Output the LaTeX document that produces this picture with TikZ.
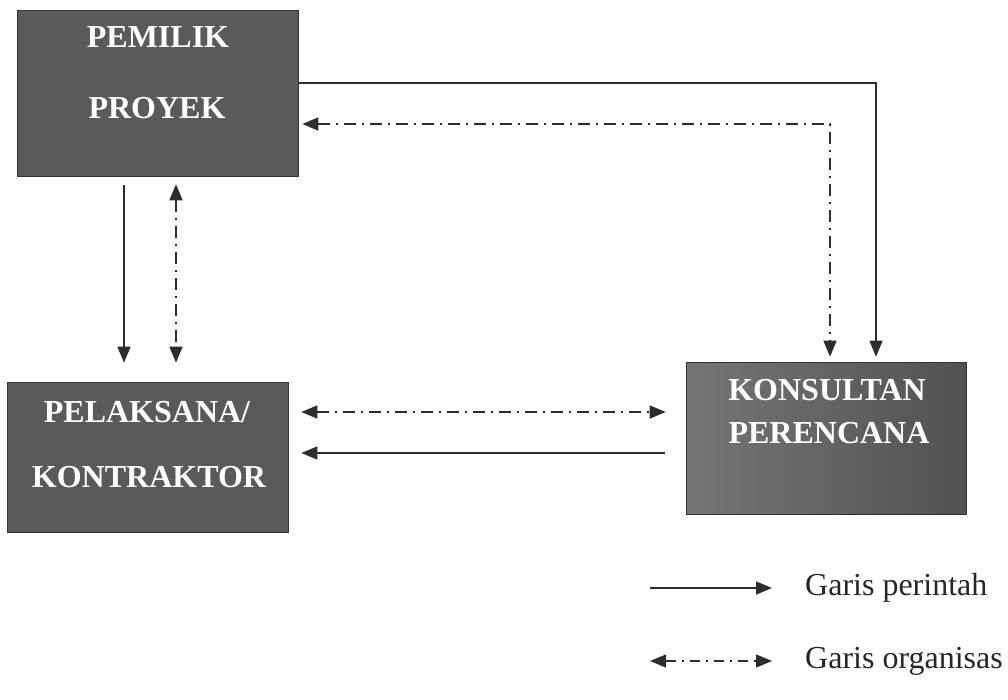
\documentclass[tikz,border=0pt]{standalone}
\usepackage{fontspec}
\setmainfont{Liberation Serif}
\usetikzlibrary{arrows.meta}
\definecolor{boxgray}{RGB}{90,90,90}
\definecolor{linegray}{RGB}{45,45,45}
\tikzset{
  box/.style={draw=black!80, line width=0.6pt, fill=boxgray, inner sep=0pt},
  boxtext/.style={text=white, font=\fontsize{32}{34}\selectfont\bfseries, inner sep=0pt},
  tip/.style={-{Triangle[length=16pt,width=13pt]}},
  cmd/.style={draw=linegray, line width=1.4pt, tip},
  org/.style={draw=linegray, line width=1.4pt, dash pattern=on 12pt off 6pt on 2pt off 6pt,
    {Triangle[length=16pt,width=13pt]}-{Triangle[length=16pt,width=13pt]}},
  legtext/.style={font=\fontsize{32}{34}\selectfont, anchor=west, inner sep=0pt, text=black!85}
}
\begin{document}
\begin{tikzpicture}[x=1pt,y=-1pt]
\useasboundingbox (0,0) rectangle (1008,699);
% boxes
\node[box, minimum width=281pt, minimum height=166pt] (pem) at (157.5,93) {};
\node[box, minimum width=281pt, minimum height=150pt] (pel) at (147.5,457) {};
\node[box, minimum width=280pt, minimum height=152pt, left color=black!54, right color=black!68] (kon) at (826,438) {};
% box labels
\node[boxtext] (pem1) at (158,37) {PEMILIK};
\node[boxtext] (pem2) at (157,108) {PROYEK};
\node[boxtext] (pel1) at (147,412) {PELAKSANA/};
\node[boxtext] (pel2) at (149,477) {KONTRAKTOR};
\node[boxtext] (kon1) at (827,390) {KONSULTAN};
\node[boxtext] (kon2) at (829,433) {PERENCANA};
% connectors
\draw[cmd, shorten >=5pt] (pem.east |- 0,83) -| ([xshift=50pt]kon.north);
\draw[org, shorten <=4pt, shorten >=5pt] (pem.east |- 0,124) -| ([xshift=4pt]kon.north);
\draw[cmd, shorten <=9pt, shorten >=19pt] (pem.south -| 124,0) -- (pel.north -| 124,0);
\draw[org, shorten <=8pt, shorten >=19pt] (pem.south -| 176,0) -- (pel.north -| 176,0);
\draw[org, shorten <=13pt, shorten >=20pt] (pel.east |- 0,412) -- (kon.west |- 0,412);
\draw[cmd, shorten <=21pt, shorten >=13pt] (kon.west |- 0,453) -- (pel.east |- 0,453);
% legend
\coordinate (la1) at (650,588);
\coordinate (lb1) at (772,588);
\coordinate (la2) at (650,661);
\coordinate (lb2) at (772,661);
\draw[cmd, line width=1.2pt] (la1) -- (lb1);
\draw[org, line width=1.2pt, dash pattern=on 10pt off 6pt on 2pt off 6pt] (la2) -- (lb2);
\node[legtext] (lt1) at (805,588) {Garis perintah};
\node[legtext] (lt2) at (805,661) {Garis organisas};
\end{tikzpicture}
\end{document}
